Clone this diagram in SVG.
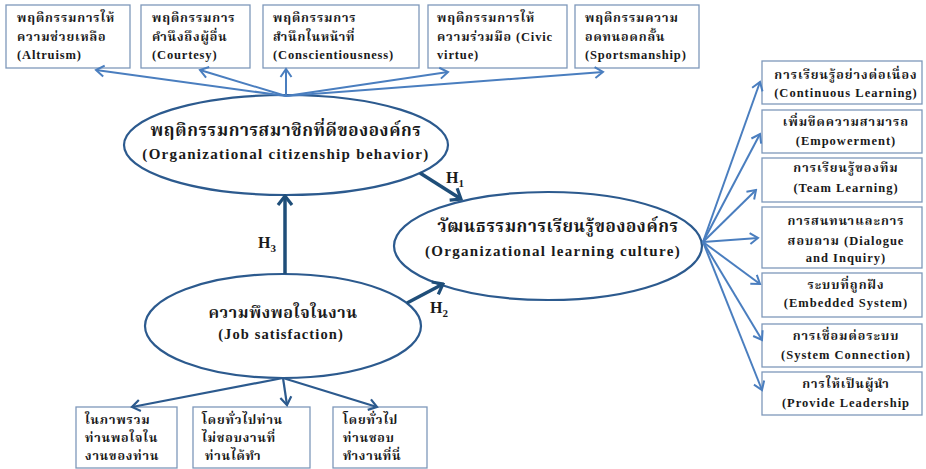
<svg xmlns="http://www.w3.org/2000/svg" width="926" height="469" viewBox="0 0 926 469">
<defs>
<style>
.box{fill:#fff;stroke:#7E98BA;stroke-width:1.3}
.ell{fill:#fff;stroke:#2C5A8E;stroke-width:2.2}
.t{font-family:"Liberation Serif","Noto Serif Thai","Noto Sans Thai","Noto Sans",serif;font-weight:bold;fill:#1a1a1a}
.s12{font-size:12.5px;letter-spacing:0.85px}
.r12{font-size:12.5px;letter-spacing:1px}
.th{font-size:17px;letter-spacing:0.6px}
.en{font-size:15px;letter-spacing:1.3px}
.c{text-anchor:middle}
.la{fill:none;stroke:#4A7EBF;stroke-width:2}
.lb{fill:none;stroke:#2C5A8E;stroke-width:2.2}
.da{fill:none;stroke:#1F4E79;stroke-width:3.5}
</style>
<marker id="ml" viewBox="-10 -7 12 14" refX="0" refY="0" markerWidth="12" markerHeight="14" markerUnits="userSpaceOnUse" orient="auto">
<path d="M-8,-5.5 L0,0 L-8,5.5" fill="none" stroke="#4A7EBF" stroke-width="2"/>
</marker>
<marker id="mb" viewBox="-10 -7 12 14" refX="0" refY="0" markerWidth="12" markerHeight="14" markerUnits="userSpaceOnUse" orient="auto">
<path d="M-8,-5.5 L0,0 L-8,5.5" fill="none" stroke="#2C5A8E" stroke-width="2.2"/>
</marker>
<marker id="md" viewBox="-12 -9 14 18" refX="0" refY="0" markerWidth="14" markerHeight="18" markerUnits="userSpaceOnUse" orient="auto">
<path d="M-9,-7 L0,0 L-9,7" fill="none" stroke="#1F4E79" stroke-width="3.2"/>
</marker>
</defs>
<rect width="926" height="469" fill="#fff"/>

<g id="altruism">
<rect class="box" x="6" y="5" width="124" height="63"/>
<text class="t s12" x="17" y="22">พฤติกรรมการให้</text>
<text class="t s12" x="17" y="41">ความช่วยเหลือ</text>
<text class="t s12" x="17" y="59">(Altruism)</text>
</g>
<g id="courtesy">
<rect class="box" x="141" y="5" width="109" height="63"/>
<text class="t s12" x="152" y="22">พฤติกรรมการ</text>
<text class="t s12" x="152" y="41">คำนึงถึงผู้อื่น</text>
<text class="t s12" x="152" y="59">(Courtesy)</text>
</g>
<g id="conscientiousness">
<rect class="box" x="263" y="5" width="156" height="63"/>
<text class="t s12" x="273" y="22">พฤติกรรมการ</text>
<text class="t s12" x="273" y="41">สำนึกในหน้าที่</text>
<text class="t s12" x="273" y="59">(Conscientiousness)</text>
</g>
<g id="civic">
<rect class="box" x="428" y="5" width="139" height="63"/>
<text class="t s12" x="437" y="22">พฤติกรรมการให้</text>
<text class="t s12" x="437" y="41">ความร่วมมือ (Civic</text>
<text class="t s12" x="437" y="59">virtue)</text>
</g>
<g id="sportsmanship">
<rect class="box" x="575" y="5" width="124" height="63"/>
<text class="t s12" x="585" y="22">พฤติกรรมความ</text>
<text class="t s12" x="585" y="41">อดทนอดกลั้น</text>
<text class="t s12" x="585" y="59">(Sportsmanship)</text>
</g>

<g id="ocb">
<ellipse class="ell" cx="286" cy="145" rx="162" ry="50"/>
<text class="t th c" x="286" y="136">พฤติกรรมการสมาชิกที่ดีขององค์กร</text>
<text class="t en c" x="286" y="159">(Organizational citizenship behavior)</text>
</g>

<g id="olc">
<ellipse class="ell" cx="548" cy="246" rx="154" ry="54"/>
<text class="t th c" x="558" y="232">วัฒนธรรมการเรียนรู้ขององค์กร</text>
<text class="t en c" x="553" y="256">(Organizational learning culture)</text>
</g>

<g id="js">
<ellipse class="ell" cx="283" cy="326" rx="138" ry="52"/>
<text class="t th c" x="283" y="318" style="font-size:16px">ความพึงพอใจในงาน</text>
<text class="t en c" x="281" y="339" style="font-size:14.5px;letter-spacing:1.1px">(Job satisfaction)</text>
</g>

<g id="continuous">
<rect class="box" x="762" y="61" width="160" height="43"/>
<text class="t r12 c" x="846" y="79">การเรียนรู้อย่างต่อเนื่อง</text>
<text class="t r12 c" x="846" y="97">(Continuous Learning)</text>
</g>
<g id="empowerment">
<rect class="box" x="762" y="110" width="160" height="43"/>
<text class="t r12 c" x="846" y="126">เพิ่มขีดความสามารถ</text>
<text class="t r12 c" x="846" y="145">(Empowerment)</text>
</g>
<g id="team">
<rect class="box" x="762" y="158" width="160" height="44"/>
<text class="t r12 c" x="846" y="172">การเรียนรู้ของทีม</text>
<text class="t r12 c" x="846" y="192">(Team Learning)</text>
</g>
<g id="dialogue">
<rect class="box" x="762" y="207" width="160" height="61"/>
<text class="t r12 c" x="846" y="225">การสนทนาและการ</text>
<text class="t r12 c" x="846" y="245">สอบถาม (Dialogue</text>
<text class="t r12 c" x="846" y="262">and Inquiry)</text>
</g>
<g id="embedded">
<rect class="box" x="762" y="273" width="160" height="44"/>
<text class="t r12 c" x="846" y="289">ระบบที่ถูกฝัง</text>
<text class="t r12 c" x="846" y="307">(Embedded System)</text>
</g>
<g id="connection">
<rect class="box" x="762" y="324" width="160" height="43"/>
<text class="t r12 c" x="846" y="340">การเชื่อมต่อระบบ</text>
<text class="t r12 c" x="846" y="359">(System Connection)</text>
</g>
<g id="leadership">
<rect class="box" x="762" y="372" width="160" height="43"/>
<text class="t r12 c" x="846" y="388">การให้เป็นผู้นำ</text>
<text class="t r12 c" x="846" y="407">(Provide Leadership</text>
</g>

<g id="overall">
<rect class="box" x="76" y="407" width="101" height="61"/>
<text class="t s12" x="85" y="424">ในภาพรวม</text>
<text class="t s12" x="85" y="442">ท่านพอใจใน</text>
<text class="t s12" x="85" y="460">งานของท่าน</text>
</g>
<g id="dislike">
<rect class="box" x="193" y="407" width="117" height="61"/>
<text class="t s12" x="202" y="424">โดยทั่วไปท่าน</text>
<text class="t s12" x="202" y="442">ไม่ชอบงานที่</text>
<text class="t s12" x="205" y="460">ท่านได้ทำ</text>
</g>
<g id="likework">
<rect class="box" x="333" y="407" width="94" height="61"/>
<text class="t s12" x="343" y="424">โดยทั่วไป</text>
<text class="t s12" x="343" y="442">ท่านชอบ</text>
<text class="t s12" x="343" y="460">ทำงานที่นี่</text>
</g>

<g id="connectors">
<line class="la" x1="286" y1="96" x2="96" y2="70" marker-end="url(#ml)"/>
<line class="la" x1="286" y1="96" x2="200" y2="70" marker-end="url(#ml)"/>
<line class="la" x1="286" y1="96" x2="286" y2="69" marker-end="url(#ml)"/>
<line class="la" x1="286" y1="96" x2="448" y2="72" marker-end="url(#ml)"/>
<line class="la" x1="286" y1="96" x2="603" y2="72" marker-end="url(#ml)"/>

<line class="la" x1="703" y1="242" x2="760" y2="82" marker-end="url(#ml)"/>
<line class="la" x1="703" y1="242" x2="760" y2="134" marker-end="url(#ml)"/>
<line class="la" x1="703" y1="242" x2="756" y2="190" marker-end="url(#ml)"/>
<line class="la" x1="703" y1="242" x2="758" y2="238" marker-end="url(#ml)"/>
<line class="la" x1="703" y1="242" x2="760" y2="284" marker-end="url(#ml)"/>
<line class="la" x1="703" y1="242" x2="762" y2="340" marker-end="url(#ml)"/>
<line class="la" x1="703" y1="242" x2="762" y2="390" marker-end="url(#ml)"/>

<line class="lb" x1="283" y1="378" x2="132" y2="407" marker-end="url(#mb)"/>
<line class="lb" x1="283" y1="378" x2="287" y2="405" marker-end="url(#mb)"/>
<line class="lb" x1="283" y1="378" x2="377" y2="407" marker-end="url(#mb)"/>

<line class="da" x1="420" y1="173" x2="461" y2="199" marker-end="url(#md)"/>
<line class="da" x1="407" y1="303" x2="443" y2="284" marker-end="url(#md)"/>
<line class="da" x1="285" y1="274" x2="285" y2="196" marker-end="url(#md)"/>
<text class="t" x="446" y="183" font-size="16">H<tspan font-size="11" dy="4">1</tspan></text>
<text class="t" x="430" y="313" font-size="16">H<tspan font-size="11" dy="4">2</tspan></text>
<text class="t" x="258" y="248" font-size="16">H<tspan font-size="11" dy="4">3</tspan></text>
</g>
</svg>
